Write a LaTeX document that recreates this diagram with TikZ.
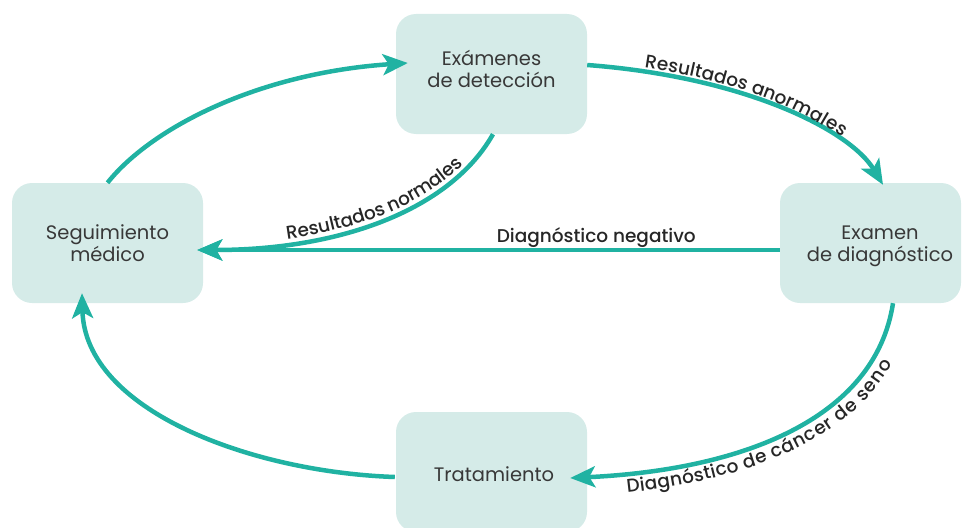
\documentclass[tikz,border=0pt]{standalone}
\usepackage{fontspec}
\setmainfont{Poppins}
\IfFontExistsTF{Poppins Medium}
  {\newfontfamily\lblfont{Poppins Medium}\newcommand\lblweight{}}
  {\IfFontExistsTF{Poppins SemiBold}
    {\newfontfamily\lblfont{Poppins SemiBold}\newcommand\lblweight{}}
    {\newfontfamily\lblfont{Poppins}\newcommand\lblweight{\bfseries}}}
\newcommand\lblset{\lblfont\lblweight\fontsize{18.5}{22}\selectfont}
\usetikzlibrary{arrows.meta,decorations.text,calc}
\definecolor{tealline}{HTML}{20B2A2}
\definecolor{boxfill}{HTML}{D5EBE8}
\definecolor{boxtxt}{HTML}{383838}
\definecolor{lbltxt}{HTML}{262626}
\tikzset{
  box/.style={fill=boxfill, draw=none, rounded corners=20pt, minimum height=120pt, inner sep=0pt},
  boxtext/.style={text=boxtxt, align=center, font=\fontsize{19.5}{22}\selectfont, inner sep=0pt},
  conn/.style={draw=tealline, line width=4.5pt, -{Stealth[length=25pt,width=21pt,inset=6pt]}},
  lbl/.style={text=lbltxt, font=\lblset, inner sep=0pt},
}
\begin{document}
\begin{tikzpicture}[x=1pt,y=-1pt]
\useasboundingbox (0,0) rectangle (963,527);
\clip (0,0) rectangle (963,527);
% boxes
\node[box, minimum width=191pt] (top) at (491.5,74) {};
\node[box, minimum width=191pt] (seg) at (107.5,243) {};
\node[box, minimum width=181pt] (diag) at (870.5,243) {};
\node[box, minimum width=191pt] (trat) at (491.5,472) {};
\node[boxtext, anchor=base] (toptext) at (491.5,88) {Exámenes\\de detección};
\node[boxtext, anchor=base] (segtext) at (107.5,261) {Seguimiento\\médico};
\node[boxtext, anchor=base] (diagtext) at (880,261) {Examen\\de diagnóstico};
\node[boxtext, anchor=base] (trattext) at (494,481) {Tratamiento};
% connectors
\coordinate (segin) at ($(seg.east)+(-6,7)$);
\draw[conn] (seg.north) .. controls (151,128) and (258,73) .. ($(top.west)+(12,-11)$);
\draw[conn, postaction={decorate, decoration={text along path, text align={left indent=57pt}, raise=4pt,
      text={|\color{lbltxt}\lblset|Resultados anormales}}}]
  ($(top.east)+(0,-9)$) .. controls (745,77) and (850,130) .. ($(diag.north)+(12.5,2)$);
\draw[conn] ($(top.south)+(1.5,0)$) .. controls (450,210) and (340,250) .. (segin);
\path[decorate, decoration={text along path, text align={left indent=91pt}, raise=5pt,
      text={|\color{lbltxt}\lblset|Resultados normales}}]
  (segin) .. controls (340,250) and (450,210) .. ($(top.south)+(1.5,0)$);
\draw[conn] ($(diag.west)+(0,7)$) -- node[lbl, pos=0.315, anchor=base, yshift=8pt] (negl) {Diagnóstico negativo} (segin);
\coordinate (tratin) at ($(trat.east)+(-17,6)$);
\draw[conn] ($(diag.south)+(22.5,0)$) .. controls (875,420) and (740,470) .. (tratin);
\path[decorate, decoration={text along path, text align={left indent=55pt}, raise=-19pt,
      text={|\color{lbltxt}\lblset|Diagnóstico de cáncer de seno}}]
  (tratin) .. controls (740,470) and (875,420) .. ($(diag.south)+(22.5,0)$);
\draw[conn] ($(trat.west)+(-1,5)$) .. controls (250,472) and (85,410) .. ($(seg.south)+(-25.5,-10)$);
\end{tikzpicture}
\end{document}
